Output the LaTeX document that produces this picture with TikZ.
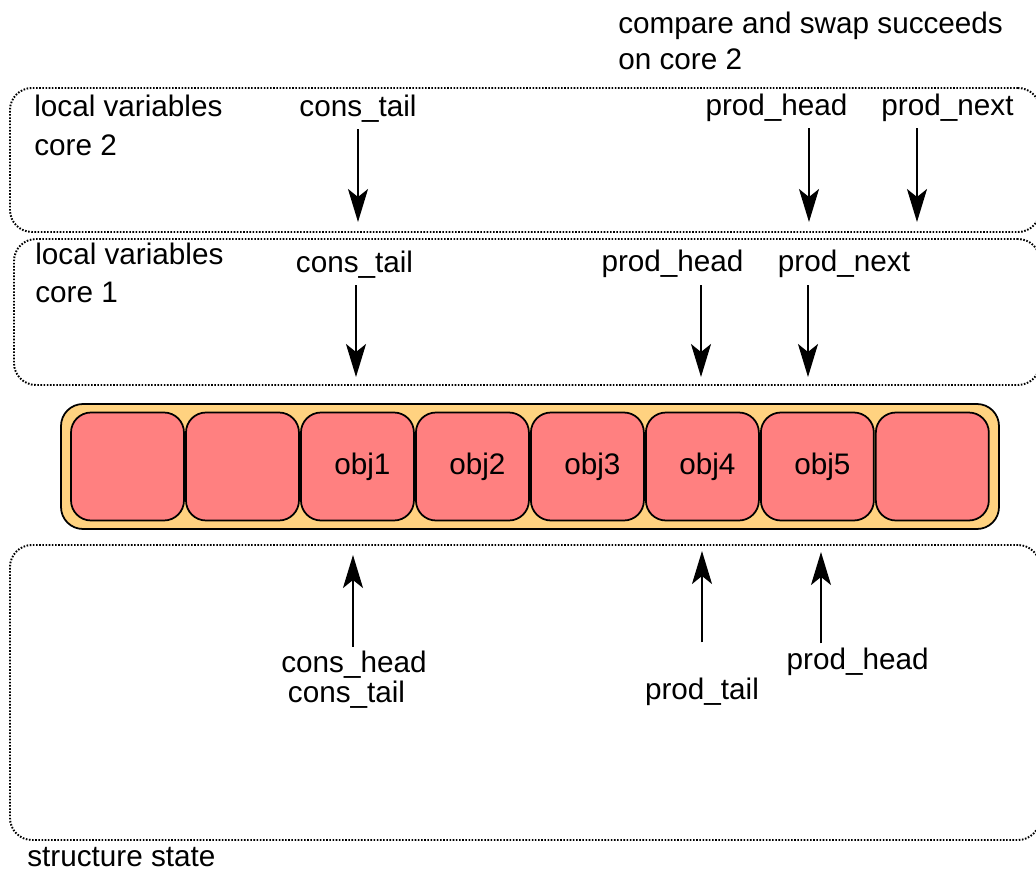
\documentclass[tikz,border=0pt]{standalone}
\usepackage{fontspec}
\setmainfont{Liberation Sans}
\usepackage{tikz}
\usetikzlibrary{arrows.meta}
\usetikzlibrary{positioning,fit}
\definecolor{ringfill}{RGB}{255,210,128}
\definecolor{slotfill}{RGB}{255,128,128}

\begin{document}
\begin{tikzpicture}[x=0.02cm,y=-0.02cm,
		font=\fontsize{16.9}{21.8}\selectfont,
		frame/.style={draw,line width=1.1pt,dash pattern=on 0.9pt off 0.9pt,rounded corners=0.44cm,inner sep=0pt},
		ring/.style={draw,line width=0.035cm,fill=ringfill,rounded corners=0.44cm,inner sep=0pt},
		slot/.style={draw,line width=0.035cm,fill=slotfill,rounded corners=0.4cm,minimum width=2.26cm,minimum height=2.16cm,inner sep=0pt,execute at begin node=\hspace{0.2cm}},
		note/.style={align=left,inner sep=0pt,anchor=base west},
		var/.style={inner xsep=0pt,inner ysep=0.26cm,text depth=0pt,anchor=base},
		varb/.style={inner xsep=0pt,inner ysep=0.08cm,anchor=base},
		ptr/.style={-{Stealth[length=0.66cm,width=0.4cm,inset=0.16cm]},line width=0.04cm}]
		\clip (0,0) rectangle (1036,876);

		% dotted areas
		\node[frame,fit={(10,88) (1040,232)}] (core2) {};
		\node[frame,fit={(14,239) (1040,385)}] (core1) {};
		\node[frame,fit={(10,545) (1040,840)}] (state) {};

		% base is the last line here
		\node[note] (cas) at (618,69.3) {compare and swap succeeds\\[-1.4pt]on core 2};
		\node[note] (lv2) at (34,155.2) {local variables\\core 2};
		\node[note] (lv1) at (35,302.7) {local variables\\core 1};
		\node[note] (ss) at (27,866) {structure state};

		% the ring
		\node[ring,fit={(61,404) (999,529)}] (ring) {};
		\node[slot] (s1) at (127.5,466.5) {};
		\node[slot,right=0.005cm of s1] (s2) {};
		\node[slot,right=0.005cm of s2] (s3) {obj1};
		\node[slot,right=0.005cm of s3] (s4) {obj2};
		\node[slot,right=0.005cm of s4] (s5) {obj3};
		\node[slot,right=0.005cm of s5] (s6) {obj4};
		\node[slot,right=0.005cm of s6] (s7) {obj5};
		\node[slot,right=0.005cm of s7] (s8) {};

		% core 2
		\node[var] (ct2) at (358,116) {cons\_tail};
		\node[var] (ph2) at (776.5,115) {prod\_head};
		\node[var] (pn2) at (947.5,115) {prod\_next};
		\coordinate (ct2tip) at (358,222);
		\coordinate (ph2tip) at (809,222);
		\coordinate (pn2tip) at (917,222);
		\draw[ptr] (ct2.south -| ct2tip) -- (ct2tip);
		\draw[ptr] (ph2.south -| ph2tip) -- (ph2tip);
		\draw[ptr] (pn2.south -| pn2tip) -- (pn2tip);

		% core 1
		\node[var] (ct1) at (354.5,272) {cons\_tail};
		\node[var] (ph1) at (672.5,271.7) {prod\_head};
		\node[var] (pn1) at (844,271.7) {prod\_next};
		\coordinate (ct1tip) at (356,377);
		\coordinate (ph1tip) at (701,377);
		\coordinate (pn1tip) at (808,377);
		\draw[ptr] (ct1.south -| ct1tip) -- (ct1tip);
		\draw[ptr] (ph1.south -| ph1tip) -- (ph1tip);
		\draw[ptr] (pn1.south -| pn1tip) -- (pn1tip);

		% structure state
		\node[varb] (ch) at (354,672.7) {cons\_head};
		\node[varb] (ctb) at (346.5,702.7) {cons\_tail};
		\node[varb] (pt) at (702,699.3) {prod\_tail};
		\node[varb] (phb) at (857.6,669.3) {prod\_head};
		\coordinate (chtip) at (353,555);
		\coordinate (pttip) at (702,551);
		\coordinate (phbtip) at (821,552);
		\draw[ptr] (ch.north -| chtip) -- (chtip);
		\draw[ptr,shorten <=0.62cm] (pt.north -| pttip) -- (pttip);
		\draw[ptr] (phb.north -| phbtip) -- (phbtip);
	\end{tikzpicture}
\end{document}
